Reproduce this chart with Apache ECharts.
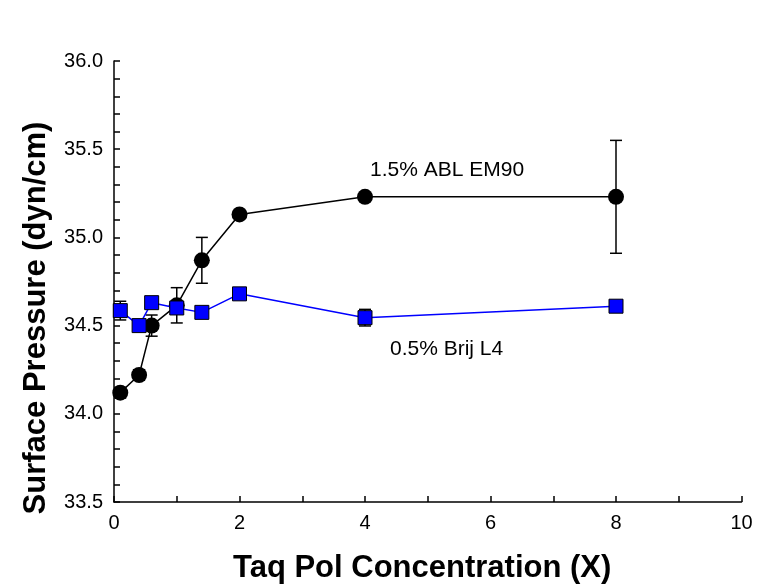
<!DOCTYPE html>
<html>
<head>
<meta charset="utf-8">
<script src="https://cdn.jsdelivr.net/npm/echarts@6/dist/echarts.min.js"></script>
<style>
html,body{margin:0;padding:0;background:#fff;}
#c{width:761px;height:588px;}
</style>
</head>
<body>
<div id="c"></div>
<script>
// ---- data ----
var xValues = [0.1, 0.4, 0.6, 1.0, 1.4, 2, 4, 8];
var ablValues = [34.12, 34.22, 34.50, 34.615, 34.87, 35.13, 35.23, 35.23];
var ablErrors = [0.03, 0.03, 0.06, 0.10, 0.13, 0.02, 0.02, 0.32];
var brijValues = [34.585, 34.50, 34.63, 34.60, 34.575, 34.68, 34.545, 34.61];
var brijErrors = [0.053, 0.03, 0.02, 0.03, 0.02, 0.02, 0.047, 0.02];
var ablLabel = '1.5% ABL EM90';
var brijLabel = '0.5% Brij L4';
var xTitle = 'Taq Pol Concentration (X)';
var yTitle = 'Surface Pressure (dyn/cm)';

var FONT = "'Liberation Sans', Arial, Helvetica, sans-serif";

function pairs(xs, ys) { return xs.map(function (x, i) { return [x, ys[i]]; }); }
function errTriples(xs, ys, es) { return xs.map(function (x, i) { return [x, ys[i] - es[i], ys[i] + es[i]]; }); }

function errRender(params, api) {
  var x = api.value(0);
  var lo = api.coord([x, api.value(1)]);
  var hi = api.coord([x, api.value(2)]);
  var hw = 6;
  var st = { stroke: '#000', lineWidth: 1.5 };
  return {
    type: 'group',
    children: [
      { type: 'line', shape: { x1: lo[0], y1: lo[1], x2: hi[0], y2: hi[1] }, style: st },
      { type: 'line', shape: { x1: lo[0] - hw, y1: lo[1], x2: lo[0] + hw, y2: lo[1] }, style: st },
      { type: 'line', shape: { x1: hi[0] - hw, y1: hi[1], x2: hi[0] + hw, y2: hi[1] }, style: st }
    ]
  };
}

var chart = echarts.init(document.getElementById('c'), null, { renderer: 'canvas' });
var axisLineStyle = { color: '#000', width: 1.5 };
chart.setOption({
  animation: false,
  backgroundColor: '#fff',
  grid: { left: 114, right: 19.5, top: 61, bottom: 86, containLabel: false },
  xAxis: {
    type: 'value', min: 0, max: 10, interval: 2,
    axisLine: { show: true, onZero: false, lineStyle: axisLineStyle },
    axisTick: { show: true, inside: true, length: 6, lineStyle: axisLineStyle },
    minorTick: { show: true, splitNumber: 2, length: 6, lineStyle: { color: '#000', width: 1.5 } },
    splitLine: { show: false },
    axisLabel: { color: '#000', fontSize: 20, fontFamily: FONT, margin: 11 }
  },
  yAxis: {
    type: 'value', min: 33.5, max: 36, interval: 0.5,
    axisLine: { show: true, onZero: false, lineStyle: axisLineStyle },
    axisTick: { show: true, inside: true, length: 6, lineStyle: axisLineStyle },
    minorTick: { show: true, splitNumber: 5, length: 6, lineStyle: { color: '#000', width: 1.5 } },
    splitLine: { show: false },
    axisLabel: { color: '#000', fontSize: 20, fontFamily: FONT, margin: 11,
      formatter: function (v) { return v.toFixed(1); } }
  },
  series: [
    { type: 'custom', name: 'ablErr', renderItem: errRender, data: errTriples(xValues, ablValues, ablErrors), z: 2, silent: true },
    { type: 'custom', name: 'brijErr', renderItem: errRender, data: errTriples(xValues, brijValues, brijErrors), z: 2, silent: true },
    { type: 'line', name: ablLabel, data: pairs(xValues, ablValues), symbol: 'circle', symbolSize: 16,
      lineStyle: { color: '#000', width: 1.5 }, itemStyle: { color: '#000' }, z: 3 },
    { type: 'line', name: brijLabel, data: pairs(xValues, brijValues), symbol: 'rect', symbolSize: 14,
      lineStyle: { color: '#0000ff', width: 1.5 }, itemStyle: { color: '#0000ff', borderColor: '#000', borderWidth: 1 }, z: 4 }
  ],
  graphic: [
    { type: 'text', left: 370, top: 160, style: { text: ablLabel, fill: '#000', font: '21px ' + FONT } },
    { type: 'text', left: 390, top: 339, style: { text: brijLabel, fill: '#000', font: '21px ' + FONT } },
    { type: 'text', x: 233, y: 568, style: { text: xTitle, fill: '#000', font: 'bold 31px ' + FONT, align: 'left', verticalAlign: 'middle' } },
    { type: 'text', x: 36, y: 318, rotation: Math.PI / 2, style: { text: yTitle, fill: '#000', font: 'bold 31px ' + FONT, align: 'center', verticalAlign: 'middle' } }
  ]
});
</script>
</body>
</html>
